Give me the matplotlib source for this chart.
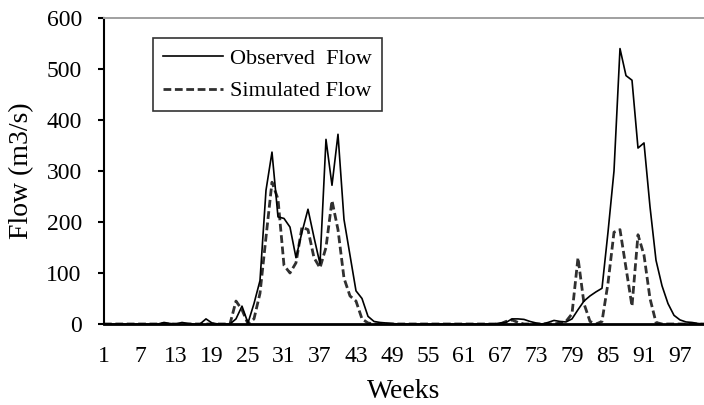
import matplotlib
matplotlib.use("Agg")
import matplotlib.pyplot as plt
import numpy as np

weeks = list(range(1, 102))

observed = [0, 0, 0, 0, 0, 0, 0, 0, 0, 0,
            3, 1, 0, 3, 1, 0, 0, 10, 2, 0,
            0, 0, 10, 35, 2, 40, 85, 262, 337, 210,
            207, 190, 130, 180, 225, 170, 118, 362, 272, 372,
            205, 135, 65, 50, 15, 5, 3, 2, 1, 0,
            0, 0, 0, 0, 0, 0, 0, 0, 0, 0,
            0, 0, 0, 0, 0, 0, 2, 3, 10, 10,
            9, 5, 2, 0, 3, 7, 5, 4, 10, 28,
            45, 55, 63, 70, 180, 300, 540, 487, 478, 345,
            355, 230, 125, 75, 40, 17, 8, 4, 3, 1,
            0]

simulated = [0, 0, 0, 0, 0, 0, 0, 0, 0, 0,
             0, 0, 0, 0, 0, 0, 0, 0, 0, 0,
             0, 0, 45, 28, 0, 10, 60, 170, 278, 245,
             115, 100, 120, 190, 185, 130, 110, 150, 242, 185,
             90, 55, 45, 10, 2, 0, 0, 0, 0, 0,
             0, 0, 0, 0, 0, 0, 0, 0, 0, 0,
             0, 0, 0, 0, 0, 0, 0, 5, 8, 3,
             0, 0, 0, 0, 0, 0, 2, 5, 20, 130,
             40, 5, 0, 5, 80, 180, 185, 110, 35, 175,
             135, 50, 3, 0, 0, 0, 0, 0, 0, 0,
             0]

xtick_labels = [str(w) for w in range(1, 98, 6)]
ytick_values = [0, 100, 200, 300, 400, 500, 600]

plt.rcParams['font.family'] = ['Liberation Serif', 'DejaVu Serif']

fig = plt.figure(figsize=(7.04, 4.05), dpi=100)
ax = fig.add_axes([0.1477, 0.2, 0.8523, 0.7556])

ax.plot(weeks, observed, color='black', lw=1.2, label='Observed  Flow', zorder=3)
ax.plot(weeks, simulated, color='#303030', lw=2.0, dashes=(2.8, 1.3),
        label='Simulated Flow', zorder=2)

ax.set_xlim(1, 101)
ax.set_ylim(0, 600)
ax.set_xticks([int(t) for t in xtick_labels])
ax.set_xticklabels(xtick_labels)
ax.set_yticks(ytick_values)

ax.tick_params(axis='x', length=0, labelsize=17, pad=15.5)
ax.tick_params(axis='y', length=4.5, width=1.5, direction='out', labelsize=17, pad=11.5)

ax.spines['right'].set_visible(False)
ax.spines['top'].set_color('#a0a0a0')
ax.spines['top'].set_linewidth(1.4)
ax.spines['left'].set_linewidth(1.5)
ax.spines['bottom'].set_linewidth(2.0)
ax.spines['bottom'].set_zorder(4)

ax.set_xlabel('Weeks', fontsize=20, labelpad=9)
ax.set_ylabel('Flow (m3/s)', fontsize=20, labelpad=9)

leg = ax.legend(loc='upper left', bbox_to_anchor=(153 / 704, 1 - 38 / 405),
                bbox_transform=fig.transFigure, fontsize=16, frameon=True,
                fancybox=False, edgecolor='black', handlelength=2.7,
                handletextpad=0.3, labelspacing=0.55, borderpad=0.45,
                borderaxespad=0)
leg.get_frame().set_linewidth(1.2)

fig.savefig('out.png', dpi=100)
